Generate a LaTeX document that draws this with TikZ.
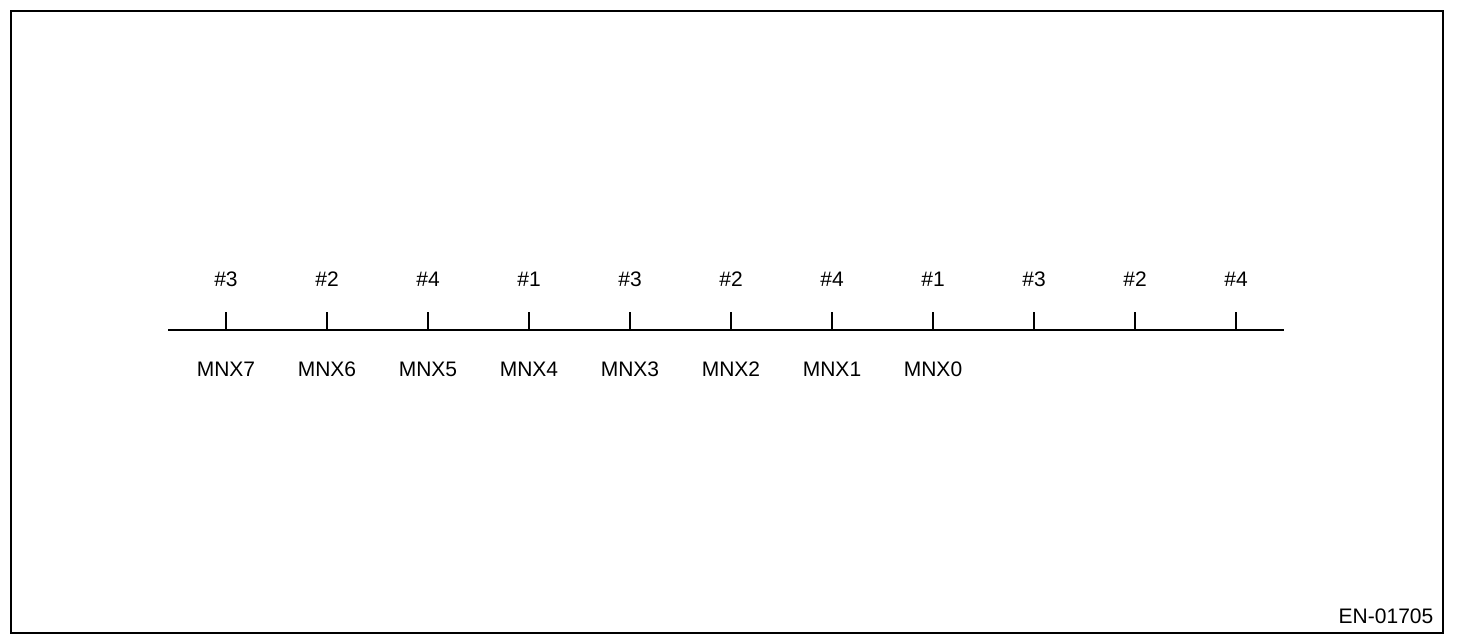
\documentclass[tikz,border=0pt]{standalone}
\usepackage{fontspec}
\setmainfont{Liberation Sans}
\begin{document}
\begin{tikzpicture}[x=1pt,y=-1pt,
  frame/.style={line width=2pt},
  axis/.style={line width=1.3pt},
  tick/.style={line width=1.5pt},
  toplabel/.style={font=\fontsize{21}{24}\selectfont, inner sep=0pt},
  botlabel/.style={font=\fontsize{21}{24}\selectfont, inner sep=0pt},
  code/.style={font=\fontsize{21}{24}\selectfont, inner sep=0pt}]
\useasboundingbox (0,0) rectangle (1472,644);
\draw[frame] (10.5,11) rectangle (1443,632.5);
\coordinate (L) at (168,330);
\coordinate (R) at (1284,330);
\draw[axis] (L) -- (R);
\foreach \i/\x/\t in {0/226/3,1/327/2,2/428/4,3/529/1,4/630/3,5/731/2,6/832/4,7/933/1,8/1034/3,9/1135/2,10/1236/4}{
  \coordinate (b\i) at (\x,330);
  \coordinate (t\i) at (\x,312);
  \draw[tick] (b\i) -- (t\i);
  \node[toplabel] (h\i) at (\x,279.5) {\#\t};
}
\foreach \i/\x/\n in {0/226/7,1/327/6,2/428/5,3/529/4,4/630/3,5/731/2,6/832/1,7/933/0}{
  \node[botlabel] (m\i) at (\x,369.5) {MNX\n};
}
\node[code] (en) at (1386,616.5) {EN-01705};
\end{tikzpicture}
\end{document}
